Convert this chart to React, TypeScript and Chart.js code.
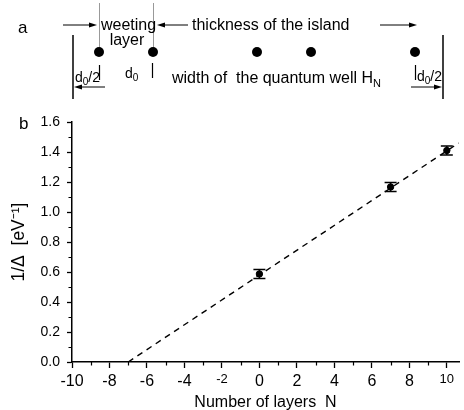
import React, { useEffect, useRef } from "react";
import { Chart, registerables } from "chart.js";

Chart.register(...registerables);

// ---- data ----
const layersN = [0, 7, 10];
const invGap = [0.587, 1.167, 1.41];
const invGapErr = [0.03, 0.03, 0.03];
const fitN = [-7, 10.63];
const fitInvGap = [0, 1.46];
const xTickValues = [-10, -8, -6, -4, -2, 0, 2, 4, 6, 8, 10];
const xMinorTicks = [-9, -7, -5, -3, -1, 1, 3, 5, 7, 9];
const yTickValues = [0, 0.2, 0.4, 0.6, 0.8, 1.0, 1.2, 1.4, 1.6];
const yMinorTicks = [0.1, 0.3, 0.5, 0.7, 0.9, 1.1, 1.3, 1.5];

const FONT = "'Liberation Sans', Arial, Helvetica, sans-serif";

const extrasPlugin = {
  id: "extras",
  afterDatasetsDraw(chart: any) {
    const { ctx, scales } = chart;
    const x = scales.x;
    const y = scales.y;
    ctx.save();
    ctx.strokeStyle = "#000";
    ctx.lineWidth = 1.5;
    layersN.forEach((n, i) => {
      const px = x.getPixelForValue(n);
      const top = y.getPixelForValue(invGap[i] + invGapErr[i]);
      const bot = y.getPixelForValue(invGap[i] - invGapErr[i]);
      ctx.beginPath();
      ctx.moveTo(px, top);
      ctx.lineTo(px, bot);
      ctx.moveTo(px - 6, top);
      ctx.lineTo(px + 6, top);
      ctx.moveTo(px - 6, bot);
      ctx.lineTo(px + 6, bot);
      ctx.stroke();
    });
    ctx.restore();
  },
  afterDraw(chart: any) {
    const { ctx, scales, chartArea } = chart;
    const x = scales.x;
    const y = scales.y;
    ctx.save();
    ctx.strokeStyle = "#000";
    ctx.lineWidth = 1.2;
    ctx.beginPath();
    xMinorTicks.forEach((v) => {
      const px = Math.round(x.getPixelForValue(v)) + 0.5;
      ctx.moveTo(px, chartArea.bottom);
      ctx.lineTo(px, chartArea.bottom + 3.5);
    });
    yMinorTicks.forEach((v) => {
      const py = Math.round(y.getPixelForValue(v)) + 0.5;
      ctx.moveTo(chartArea.left, py);
      ctx.lineTo(chartArea.left - 3.5, py);
    });
    ctx.stroke();
    ctx.restore();
  },
};

function Diagram() {
  const t = { fontFamily: FONT, fill: "#000" } as any;
  const arrow = (x1: number, x2: number, y: number) => {
    const dir = x2 > x1 ? 1 : -1;
    return (
      <g>
        <line x1={x1} y1={y} x2={x2 - dir * 6} y2={y} stroke="#000" strokeWidth={1} />
        <polygon points={`${x2},${y} ${x2 - dir * 8},${y - 2.5} ${x2 - dir * 8},${y + 2.5}`} fill="#000" />
      </g>
    );
  };
  return (
    <svg
      width={464}
      height={410}
      style={{ position: "absolute", left: 0, top: 0, pointerEvents: "none" }}
    >
      <text x={18} y={33} fontSize={17} {...t}>a</text>
      {arrow(63, 97, 25)}
      <line x1={99.5} y1={3} x2={99.5} y2={48} stroke="#999" strokeWidth={1} />
      <line x1={153.5} y1={3} x2={153.5} y2={48} stroke="#999" strokeWidth={1} />
      <text x={101} y={30} fontSize={16} {...t}>weeting</text>
      <text x={127} y={45} fontSize={16} textAnchor="middle" {...t}>layer</text>
      {arrow(188, 157, 25)}
      <text x={192} y={30} fontSize={16} {...t}>thickness of the island</text>
      {arrow(380, 417, 25)}
      {[99, 153, 257, 311, 415].map((cx) => (
        <circle key={cx} cx={cx} cy={52} r={5} fill="#000" />
      ))}
      <line x1={99.5} y1={65} x2={99.5} y2={80} stroke="#000" strokeWidth={1.2} />
      <line x1={152.5} y1={63} x2={152.5} y2={78} stroke="#000" strokeWidth={1.2} />
      <line x1={415.5} y1={65} x2={415.5} y2={80} stroke="#000" strokeWidth={1.2} />
      <line x1={73} y1={35} x2={73} y2={99} stroke="#000" strokeWidth={1.5} />
      <line x1={443} y1={35} x2={443} y2={99} stroke="#000" strokeWidth={1.5} />
      <text x={75} y={82} fontSize={14} {...t}>
        d<tspan fontSize={10} dy={3}>0</tspan><tspan dy={-3}>/2</tspan>
      </text>
      <text x={125} y={78} fontSize={14} {...t}>
        d<tspan fontSize={10} dy={3}>0</tspan>
      </text>
      <text x={172} y={83} fontSize={16} {...t} xmlSpace="preserve">
        width of  the quantum well H<tspan fontSize={11} dy={4}>N</tspan>
      </text>
      <text x={417} y={81} fontSize={14} {...t}>
        d<tspan fontSize={10} dy={3}>0</tspan><tspan dy={-3}>/2</tspan>
      </text>
      {arrow(105, 74, 87)}
      {arrow(411, 442, 87)}
      <text x={19} y={129} fontSize={17} {...t}>b</text>
    </svg>
  );
}

export default function App() {
  const ref = useRef<HTMLCanvasElement>(null);
  useEffect(() => {
    if (!ref.current) return;
    const chart = new Chart(ref.current, {
      type: "scatter",
      data: {
        datasets: [
          {
            type: "line",
            data: fitN.map((n, i) => ({ x: n, y: fitInvGap[i] })),
            borderColor: "#000",
            borderWidth: 1.4,
            borderDash: [6, 5],
            pointRadius: 0,
            fill: false,
          } as any,
          {
            data: layersN.map((n, i) => ({ x: n, y: invGap[i] })),
            backgroundColor: "#000",
            borderColor: "#000",
            pointRadius: 3.2,
            pointStyle: "circle",
          },
        ],
      },
      options: {
        animation: false,
        responsive: false,
        layout: { padding: { top: 122, right: 1, left: 0, bottom: 0 } },
        plugins: { legend: { display: false }, tooltip: { enabled: false } },
        scales: {
          x: {
            type: "linear",
            min: -10,
            max: 10.65,
            afterBuildTicks: (s: any) => {
              s.ticks = xTickValues.map((v) => ({ value: v }));
            },
            afterFit: (s: any) => {
              s.height = 48;
            },
            ticks: {
              color: "#000",
              autoSkip: false,
              maxRotation: 0,
              padding: 4,
              font: (c: any) => ({
                family: FONT,
                size: c.tick && (c.tick.value === -2 || c.tick.value === 10) ? 13 : 16,
              }),
              callback: (v: any) => String(v),
            },
            grid: {
              drawOnChartArea: false,
              drawTicks: true,
              tickLength: 6,
              tickColor: "#000",
              tickWidth: 1.3,
            },
            border: { color: "#000", width: 1.5 },
            title: {
              display: true,
              text: "Number of layers  N",
              color: "#000",
              font: { family: FONT, size: 16 },
              padding: { top: 0, bottom: -2 },
            },
          },
          y: {
            type: "linear",
            min: 0,
            max: 1.6,
            afterBuildTicks: (s: any) => {
              s.ticks = yTickValues.map((v) => ({ value: v }));
            },
            afterFit: (s: any) => {
              s.width = 72;
            },
            ticks: {
              color: "#000",
              padding: 7,
              font: { family: FONT, size: 14 },
              callback: (v: any) => Number(v).toFixed(1),
            },
            grid: {
              drawOnChartArea: false,
              drawTicks: true,
              tickLength: 5,
              tickColor: "#000",
              tickWidth: 1.3,
            },
            border: { color: "#000", width: 1.5 },
            title: {
              display: true,
              text: "1/\u0394  [eV\u207B\u00B9]",
              color: "#000",
              font: { family: FONT, size: 17.5 },
              padding: { top: 9, bottom: 0 },
            },
          },
        },
      },
      plugins: [extrasPlugin],
    });
    return () => chart.destroy();
  }, []);
  return (
    <div style={{ position: "fixed", left: 0, top: 0, width: 464, height: 410, background: "#fff" }}>
      <canvas ref={ref} width={464} height={410} style={{ position: "absolute", left: 0, top: 0 }} />
      <Diagram />
    </div>
  );
}
